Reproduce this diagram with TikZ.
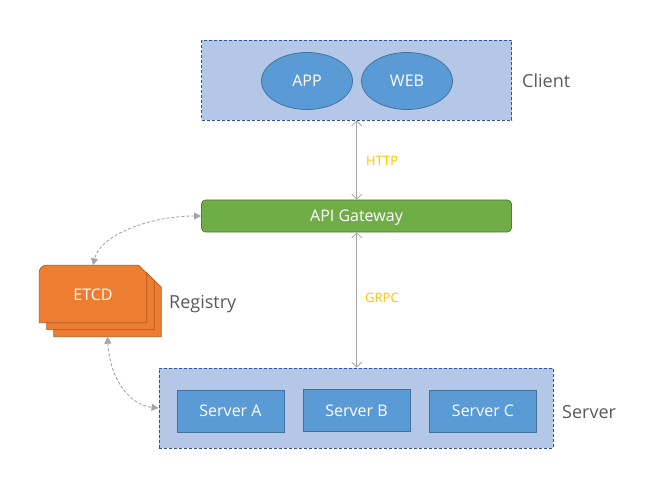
\documentclass[tikz,border=0pt]{standalone}
\usepackage{fontspec}
\setmainfont{Open Sans}
\usetikzlibrary{arrows.meta,calc,shapes.geometric}
\definecolor{grpbg}{HTML}{B4C7E7}
\definecolor{grpbd}{HTML}{2F5597}
\definecolor{blu}{HTML}{5B9BD5}
\definecolor{blubd}{HTML}{41719C}
\definecolor{grn}{HTML}{70AD47}
\definecolor{grnbd}{HTML}{507E32}
\definecolor{org}{HTML}{ED7D31}
\definecolor{orgbd}{HTML}{AE5A21}
\definecolor{lbl}{HTML}{595959}
\definecolor{arr}{HTML}{A5A5A5}
\definecolor{proto}{HTML}{FFC000}
\tikzset{
  grpbox/.style={draw=grpbd, fill=grpbg, dashed, dash pattern=on 3pt off 2pt, line width=0.9pt, inner sep=0pt},
  ellnode/.style={ellipse, draw=blubd, fill=blu, line width=0.75pt, text=white, font=\fontsize{16}{18}\selectfont, inner sep=0pt, minimum width=91pt, minimum height=57pt, text height=11.5pt, text depth=0pt},
  srvnode/.style={rectangle, draw=blubd, fill=blu, line width=0.75pt, text=white, font=\fontsize{16}{18}\selectfont, inner sep=0pt, minimum width=107pt, minimum height=42pt, text height=11.5pt, text depth=0pt},
  gwnode/.style={rectangle, rounded corners=4pt, draw=grnbd, fill=grn, line width=0.75pt, text=white, font=\fontsize{16}{18}\selectfont, inner sep=0pt, minimum width=310pt, minimum height=32pt, text height=11.5pt, text depth=0pt},
  etcdslot/.style={inner sep=0pt, minimum width=107pt, minimum height=57pt},
  etcdshape/.style={draw=orgbd, fill=org, line width=0.75pt},
  etcdtext/.style={text=white, font=\fontsize{16}{18}\selectfont, inner sep=0pt, text height=11.5pt, text depth=0pt},
  grplabel/.style={text=lbl, font=\fontsize{18}{20}\selectfont, anchor=west, inner sep=0pt, text height=13pt, text depth=0pt},
  protolabel/.style={text=proto, font=\fontsize{13}{15}\selectfont, anchor=west, inner sep=0pt, text height=9.3pt, text depth=0pt},
  solidarrow/.style={draw=arr, line width=0.75pt, {Straight Barb[length=5pt,width=10pt]}-{Straight Barb[length=5pt,width=10pt]}},
  dasharrow/.style={draw=arr, line width=0.9pt, dash pattern=on 3pt off 2pt, {Triangle[length=7pt,width=7pt]}-{Triangle[length=7pt,width=7pt]}}
}
\begin{document}
\begin{tikzpicture}[x=1pt,y=-1pt]
\useasboundingbox (0,0) rectangle (653,481);
% Client group
\node[grpbox, minimum width=310pt, minimum height=80pt] (client) at (356.5,80) {};
\node[ellnode] (app) at (307,81) {APP};
\node[ellnode] (web) at (407,81) {WEB};
\node[grplabel] (clientlbl) at (522,81) {Client};
% Gateway
\node[gwnode] (gw) at (356.5,216) {API Gateway};
% Server group
\node[grpbox, minimum width=394pt, minimum height=80pt] (server) at (356,408) {};
\node[srvnode] (sa) at (230.5,411) {Server A};
\node[srvnode] (sb) at (356.5,410.5) {Server B};
\node[srvnode] (sc) at (483,411) {Server C};
\node[grplabel] (serverlbl) at (562,412) {Server};
% ETCD stack
\node[etcdslot] (etcd3) at (107.5,308) {};
\node[etcdslot] (etcd2) at (100.5,301) {};
\node[etcdslot] (etcd) at (93,294) {};
\foreach \n in {etcd3,etcd2,etcd}{
  \filldraw[etcdshape] (\n.south west) [rounded corners=7pt] -- (\n.north west) [sharp corners] -- ($(\n.north east)+(-8,0)$) -- ($(\n.north east)+(0,8)$) -- (\n.south east) -- cycle;
}
\node[etcdtext] (etcdtxt) at (93,295) {ETCD};
\node[grplabel] (reglbl) at (169,302) {Registry};
% Connectors
\coordinate (ax) at (356.7,0);
\draw[solidarrow] (client.south -| ax) -- (gw.north -| ax);
\draw[solidarrow] (gw.south -| ax) -- (server.north -| ax);
\node[protolabel] (http) at (366,161) {HTTP};
\node[protolabel] (grpc) at (365,298) {GRPC};
\draw[dasharrow] (gw.west) .. controls (150,216) and (100,235) .. (etcd.north);
\draw[dasharrow] (etcd3.south) .. controls (110,380) and (130,405) .. (server.west);
\end{tikzpicture}
\end{document}
